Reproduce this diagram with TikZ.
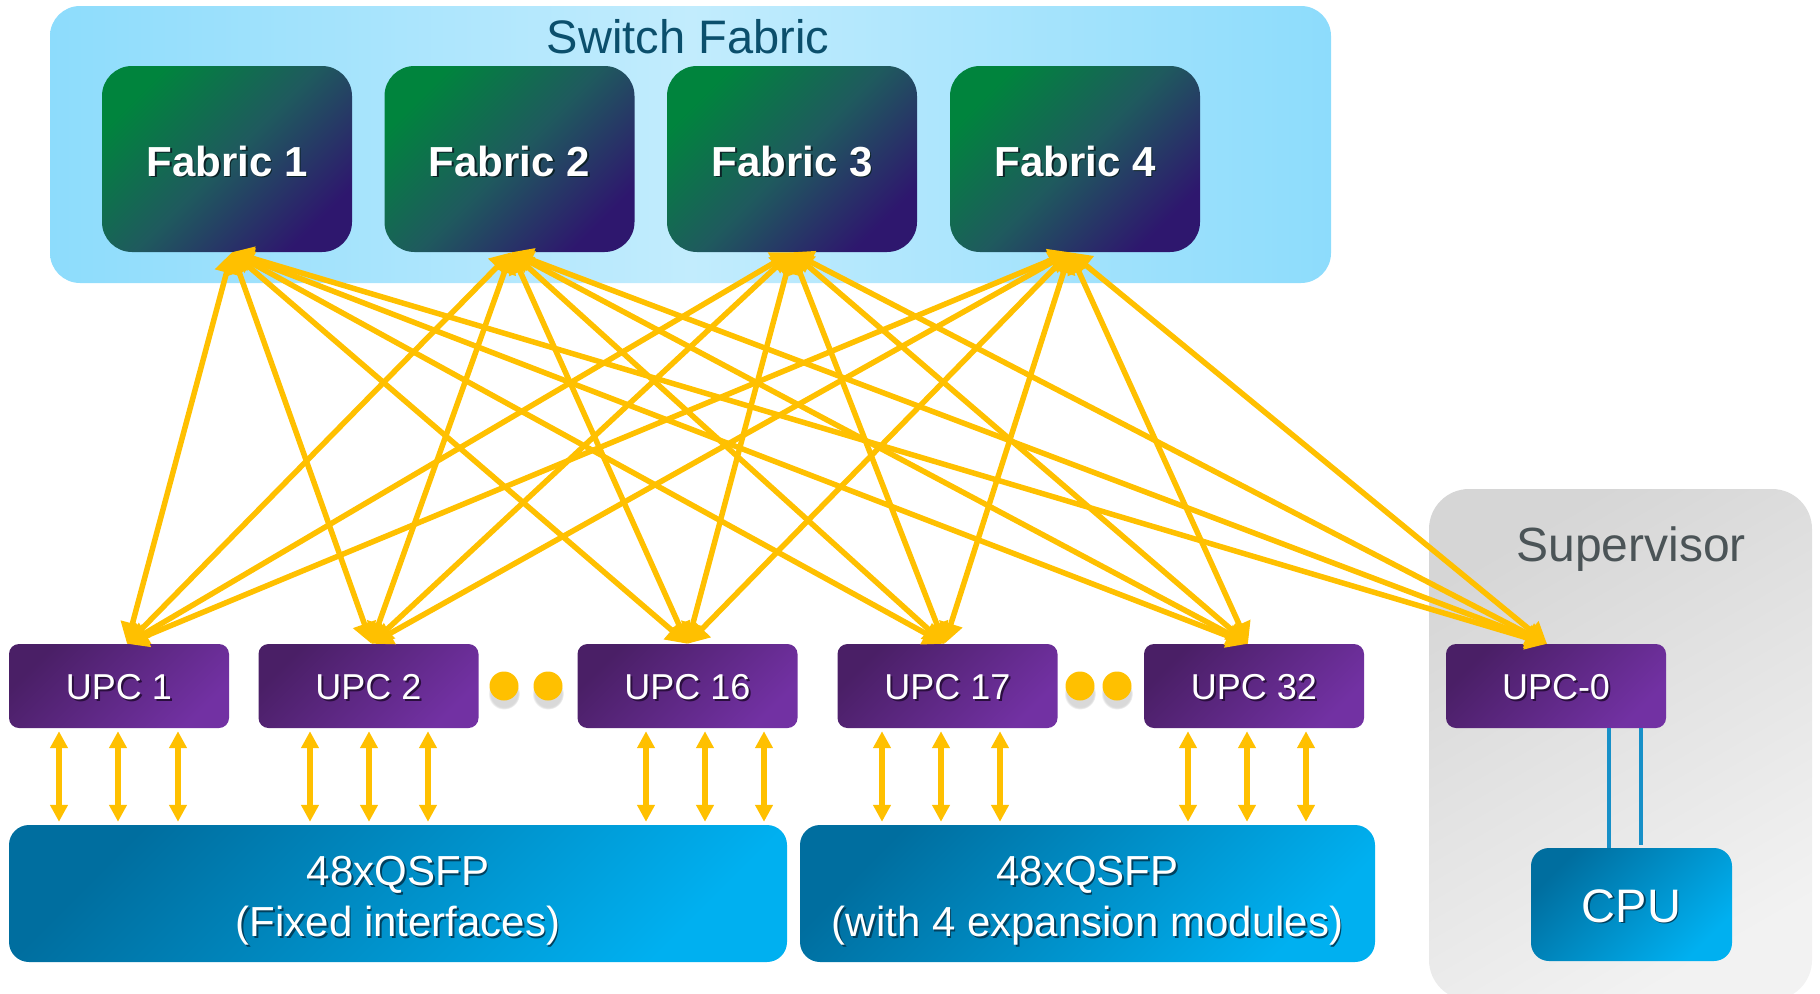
\documentclass[tikz,border=0pt]{standalone}
\usepackage{fontspec}
\setmainfont{Liberation Sans}
\usetikzlibrary{arrows.meta,shadows}

\definecolor{linkyellow}{HTML}{FFC000}
\definecolor{fabgreen}{HTML}{00843D}
\definecolor{fabmid}{HTML}{1F5A5E}
\definecolor{fabpurple}{HTML}{2E176E}
\definecolor{fabshade}{HTML}{0C2226}
\definecolor{upcdark}{HTML}{4A1F66}
\definecolor{upclight}{HTML}{7231A3}
\definecolor{upcshade}{HTML}{2A0E3E}
\definecolor{portdark}{HTML}{006E9F}
\definecolor{portlight}{HTML}{00B0F0}
\definecolor{portshade}{HTML}{00405E}
\definecolor{sfedge}{HTML}{8DDCFC}
\definecolor{sfcentre}{HTML}{C2ECFD}
\definecolor{supdark}{HTML}{D6D6D6}
\definecolor{suplight}{HTML}{F2F2F2}
\definecolor{sftext}{HTML}{0B4F6C}
\definecolor{suptext}{HTML}{4B5457}
\definecolor{cpuline}{HTML}{1790C8}

% white label with a small dark offset copy underneath
\newcommand\shadowed[2]{\leavevmode\rlap{\kern1.8pt\raisebox{-1.8pt}{\textcolor{#1}{#2}}}#2}
% two centred lines, lowered by #1 and taking no height of their own
\newcommand\twolines[4]{\raisebox{#1}[0pt][0pt]{\begin{tabular}{@{}c@{}}\shadowed{#2}{#3}\\\shadowed{#2}{#4}\end{tabular}}}

\begin{document}
\begin{tikzpicture}[x=1pt,y=-1pt,
  sfbox/.style={rounded corners=30pt, inner sep=0pt, minimum width=1281pt, minimum height=277pt,
    left color=sfedge, right color=sfedge, middle color=sfcentre},
  supbox/.style={rounded corners=40pt, inner sep=0pt, minimum width=383pt, minimum height=511pt,
    top color=supdark, bottom color=suplight, shading angle=30},
  fabricbox/.style={rounded corners=30pt, inner sep=0pt, minimum width=250pt, minimum height=186pt,
    top color=fabgreen, bottom color=fabpurple, middle color=fabmid, shading angle=45,
    text=white, text height=34pt, text depth=0pt, font=\fontsize{42}{50}\selectfont\bfseries},
  upcbox/.style={rounded corners=10pt, inner sep=0pt, minimum width=220pt, minimum height=84pt,
    top color=upcdark, bottom color=upclight, shading angle=45,
    text=white, text height=27pt, text depth=0pt, font=\fontsize{36}{43}\selectfont},
  portbox/.style={rounded corners=20pt, inner sep=0pt, minimum height=137pt,
    top color=portdark, bottom color=portlight, shading angle=45,
    text=white, font=\fontsize{42}{51}\selectfont},
  cpubox/.style={portbox, rounded corners=18pt, minimum width=201pt, minimum height=113pt,
    text height=35pt, text depth=0pt, font=\fontsize{47}{56}\selectfont},
  ellipsisdot/.style={circle, fill=linkyellow, minimum size=29pt, inner sep=0pt,
    circular drop shadow={shadow xshift=0pt, shadow yshift=-7pt, opacity=0.3}},
  fablink/.style={draw=linkyellow, line width=5.5pt, >={Triangle[length=21pt,width=23pt]}, <->},
  vlink/.style={draw=linkyellow, line width=5.5pt, >={Triangle[length=17pt,width=17pt]}, <->,
    shorten <=3pt, shorten >=3pt},
  cpulink/.style={draw=cpuline, line width=3.5pt},
]
\useasboundingbox (0,0) rectangle (1820,993);

% containers
\node[sfbox] (sf) at (690.5,144.5) {};
\node[font=\fontsize{47}{56}\selectfont, text=sftext, anchor=base] (sflabel) at (688,53) {Switch Fabric};
\node[supbox] (sup) at (1620.5,744.5) {};
\node[font=\fontsize{48}{58}\selectfont, text=suptext, anchor=base] (suplabel) at (1631,561) {Supervisor};

% fabric modules
\node[fabricbox] (f1) at (227,159)   {\shadowed{fabshade}{Fabric 1}};
\node[fabricbox] (f2) at (509.5,159) {\shadowed{fabshade}{Fabric 2}};
\node[fabricbox] (f3) at (792,159)   {\shadowed{fabshade}{Fabric 3}};
\node[fabricbox] (f4) at (1075,159)  {\shadowed{fabshade}{Fabric 4}};

% unified port controllers
\node[upcbox] (u1)  at (119,686)    {\shadowed{upcshade}{UPC 1}};
\node[upcbox] (u2)  at (368.5,686)  {\shadowed{upcshade}{UPC 2}};
\node[upcbox] (u16) at (687.5,686)  {\shadowed{upcshade}{UPC 16}};
\node[upcbox] (u17) at (947.5,686)  {\shadowed{upcshade}{UPC 17}};
\node[upcbox] (u32) at (1254,686)   {\shadowed{upcshade}{UPC 32}};
\node[upcbox] (u0)  at (1556,686)   {\shadowed{upcshade}{UPC-0}};

\node[ellipsisdot] (d1) at (504,686) {};
\node[ellipsisdot] (d2) at (548,686) {};
\node[ellipsisdot] (d3) at (1080,686) {};
\node[ellipsisdot] (d4) at (1117,686) {};

% front-panel ports and CPU
\node[portbox, minimum width=778pt] (q1) at (398,893.5)
  {\twolines{-14pt}{portshade}{48xQSFP}{(Fixed interfaces)}};
\node[portbox, minimum width=575pt] (q2) at (1087.5,893.5)
  {\twolines{-14pt}{portshade}{48xQSFP}{(with 4 expansion modules)}};
\node[cpubox] (cpu) at (1631.5,904.5) {\shadowed{portshade}{CPU}};

% attachment points of the fabric links
\coordinate (f1p) at ([xshift=5pt]f1.south);
\coordinate (f2p) at ([xshift=2pt]f2.south);
\coordinate (f3p) at (f3.south);
\coordinate (f4p) at ([xshift=-5pt]f4.south);
\coordinate (u1p)  at ([xshift=8pt]u1.north);
\coordinate (u2p)  at ([xshift=3pt]u2.north);
\coordinate (u16p) at (u16.north);
\coordinate (u17p) at ([xshift=-3pt]u17.north);
\coordinate (u32p) at ([xshift=-6pt]u32.north);
\coordinate (u0p)  at ([xshift=-9pt]u0.north);

% full mesh between fabric modules and port controllers
\foreach \f in {f1p,f2p,f3p,f4p}
  \foreach \u in {u1p,u2p,u16p,u17p,u32p,u0p}
    \draw[fablink] (\f) -- (\u);

% port controller to front-panel links
\foreach \u/\q/\offs in {u1/q1/{-60,-1,59}, u2/q1/{-58.5,0.5,59.5}, u16/q1/{-41.5,17.5,76.5},
                          u17/q2/{-65.5,-6.5,52.5}, u32/q2/{-66,-7,52}}{
  \foreach \d in \offs {
    \path (\u.south) ++(\d,0) coordinate (vtop);
    \draw[vlink] (vtop) -- (vtop |- \q.north);
  }
}

% supervisor UPC to CPU
\path (u0.south) ++(53,0) coordinate (ca);
\path (u0.south) ++(85,0) coordinate (cb);
\path (cb |- cpu.north) ++(0,-3) coordinate (cbend);
\draw[cpulink] (ca) -- (ca |- cpu.north);
\draw[cpulink] (cb) -- (cbend);
\end{tikzpicture}
\end{document}
